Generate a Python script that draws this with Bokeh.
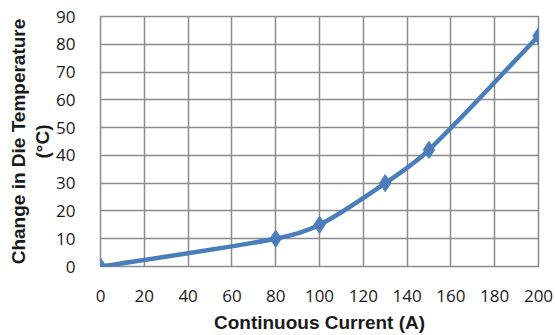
import numpy as np
from bokeh.plotting import figure
from bokeh.models import Title, FixedTicker, Range1d
from bokeh.embed import file_html
from bokeh.resources import INLINE

current = [0, 80, 100, 130, 150, 200]
temp_rise = [0, 10, 15, 30, 42, 83]
x_ticks = list(range(0, 201, 20))
y_ticks = list(range(0, 91, 10))

BLUE = "#4a7ebb"
GRID = "#8c8c8c"
TXT = "#1a1a1a"

p = figure(width=555, height=335, output_backend="svg", toolbar_location=None,
           x_range=Range1d(0, 200), y_range=Range1d(0, 90),
           min_border_left=100, min_border_right=17, min_border_top=16, min_border_bottom=69)
p.background_fill_color = "white"
p.border_fill_color = "white"
p.outline_line_color = GRID
p.outline_line_width = 1.5

for ax in (p.xaxis, p.yaxis):
    ax.axis_line_color = None
    ax.major_tick_line_color = None
    ax.minor_tick_line_color = None
    ax.major_label_text_font = "Open Sans"
    ax.major_label_text_font_size = "17px"
    ax.major_label_text_color = TXT
p.xaxis.major_label_standoff = 17
p.yaxis.major_label_standoff = 19
p.xaxis.ticker = FixedTicker(ticks=x_ticks)
p.yaxis.ticker = FixedTicker(ticks=y_ticks)
p.xgrid.ticker = FixedTicker(ticks=x_ticks)
p.ygrid.ticker = FixedTicker(ticks=y_ticks)
for g in (p.xgrid, p.ygrid):
    g.grid_line_color = GRID
    g.grid_line_width = 1.5

p.xaxis.axis_label = "Continuous Current (A)"
p.xaxis.axis_label_text_font = "Liberation Sans"
p.xaxis.axis_label_text_font_style = "bold"
p.xaxis.axis_label_text_font_size = "19px"
p.xaxis.axis_label_text_color = TXT
p.xaxis.axis_label_standoff = 7

t1 = Title(text="(°C)", align="center", text_font="Liberation Sans", text_font_style="bold",
           text_font_size="19px", text_color=TXT, standoff=2)
t2 = Title(text="Change in Die Temperature", align="center", text_font="Liberation Sans",
           text_font_style="bold", text_font_size="19px", text_color=TXT, standoff=0)
p.add_layout(t1, "left")
p.add_layout(t2, "left")

# smoothed line: cubic Bezier segments through the data points (finite-difference tangents)
xs = np.array(current, dtype=float)
ys = np.array(temp_rise, dtype=float)
n = len(xs)
m = np.zeros(n)
m[0] = (ys[1] - ys[0]) / (xs[1] - xs[0])
m[-1] = (ys[-1] - ys[-2]) / (xs[-1] - xs[-2])
for i in range(1, n - 1):
    m[i] = (ys[i + 1] - ys[i - 1]) / (xs[i + 1] - xs[i - 1])
h = np.diff(xs)
p.bezier(x0=xs[:-1], y0=ys[:-1], x1=xs[1:], y1=ys[1:],
         cx0=xs[:-1] + h / 3, cy0=ys[:-1] + m[:-1] * h / 3,
         cx1=xs[1:] - h / 3, cy1=ys[1:] - m[1:] * h / 3,
         line_color=BLUE, line_width=4.5)
p.scatter(current, temp_rise, marker="diamond", size=17, fill_color=BLUE, line_color=BLUE)

open("out.html", "w").write(file_html(p, INLINE))
